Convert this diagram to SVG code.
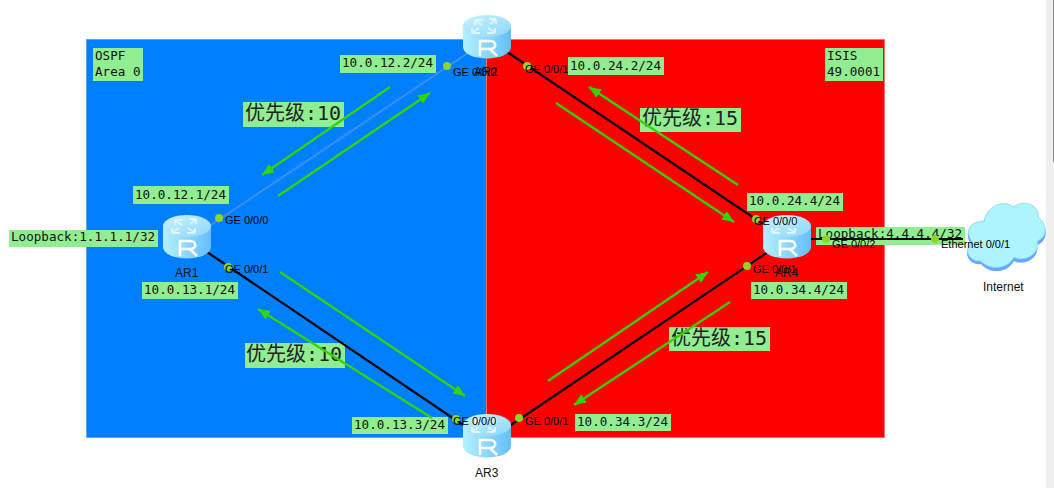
<svg xmlns="http://www.w3.org/2000/svg" width="1054" height="488" viewBox="0 0 1054 488">
<style>
.lbl{fill:#90ee90}
.mono{font-family:"DejaVu Sans Mono","Liberation Mono",monospace;font-size:12.6px;fill:#111}
.cn{font-family:"DejaVu Sans Mono","Noto Sans CJK SC",monospace;font-size:20px;fill:#222}
.port{font-family:"Liberation Sans",Arial,sans-serif;font-size:11px;fill:#000}
.name{font-family:"Liberation Sans",Arial,sans-serif;font-size:12px;fill:#111}
.link{stroke:#000;stroke-width:2.2;fill:none}
.flow{stroke:#33d400;stroke-width:2.2;fill:none;marker-end:url(#ah)}
.dot{fill:#8fd42a}
</style>
<defs>
<marker id="ah" markerUnits="userSpaceOnUse" markerWidth="14" markerHeight="12" refX="12" refY="5" orient="auto"><path d="M0 0L12 5L0 10Z" fill="#33d400"/></marker>
<linearGradient id="side" x1="0" x2="1" y1="0" y2="0"><stop offset="0" stop-color="#b4f0ff"/><stop offset=".5" stop-color="#8cd8ff"/><stop offset="1" stop-color="#66bdf8"/></linearGradient>
<linearGradient id="top" x1="0" x2="1" y1="0" y2="1"><stop offset="0" stop-color="#c8f2ff"/><stop offset="1" stop-color="#8fd6fa"/></linearGradient>
<g id="router">
<path d="M-24 -11V10A24 11.500 0 0 0 24 10V-11Z" fill="url(#side)"/>
<ellipse cx="0" cy="-11" rx="24" ry="11" fill="url(#top)"/>
<g fill="none" stroke="#e4f8ff" stroke-width="2" opacity=".85">
<path d="M-12 -17H-4M-12 -17V-12M-11 -16L-5 -12"/>
<path d="M9 -18H2M9 -18V-13M8 -17L3 -13"/>
<path d="M-7 -4H-15M-15 -4V-9M-14 -5L-8 -9"/>
<path d="M8 -4H0M8 -4V-9M7 -5L1 -9"/>
</g>
<path d="M-7 19V4H3C10 4 10 12 3 12H-7M3 12L10 19" fill="none" stroke="#fff" stroke-width="2.600"/>
</g>
</defs>
<rect width="1054" height="488" fill="#fff"/>
<rect x="1046" width="8" height="488" fill="#efefef"/>
<rect x="1053" width="1" height="162" fill="#8a8a8a"/>
<g id="areas">
<rect x="86.500" y="39.500" width="400" height="398" fill="#0080ff" stroke="#5aa8f5"/>
<rect x="486.500" y="39.500" width="398" height="398" fill="#ff0000" stroke="#f27070"/>
</g>
<g id="area-ospf"><rect class="lbl" x="93" y="48" width="50" height="33"/><text class="mono" x="95" y="60">OSPF</text><text class="mono" x="95" y="76">Area 0</text></g>
<g id="area-isis"><rect class="lbl" x="825" y="48" width="58" height="33"/><text class="mono" x="827" y="60">ISIS</text><text class="mono" x="827" y="76">49.0001</text></g>
<g id="labels">
<rect class="lbl" x="340" y="55" width="96" height="18"/><text class="mono" x="342" y="67">10.0.12.2/24</text>
<rect class="lbl" x="568" y="57" width="96" height="18"/><text class="mono" x="570" y="70">10.0.24.2/24</text>
<rect class="lbl" x="133" y="186" width="96" height="18"/><text class="mono" x="135" y="199">10.0.12.1/24</text>
<rect class="lbl" x="142" y="282" width="96" height="17"/><text class="mono" x="144" y="294">10.0.13.1/24</text>
<rect class="lbl" x="9" y="230" width="149" height="17"/><text class="mono" x="11" y="241">Loopback:1.1.1.1/32</text>
<rect class="lbl" x="747" y="193" width="96" height="18"/><text class="mono" x="749" y="205">10.0.24.4/24</text>
<rect class="lbl" x="751" y="282" width="96" height="17"/><text class="mono" x="753" y="294">10.0.34.4/24</text>
<rect class="lbl" x="816" y="227" width="149" height="18"/><text class="mono" x="818" y="238">Loopback:4.4.4.4/32</text>
<rect class="lbl" x="352" y="417" width="96" height="17"/><text class="mono" x="354" y="429">10.0.13.3/24</text>
<rect class="lbl" x="575" y="414" width="96" height="17"/><text class="mono" x="577" y="426">10.0.34.3/24</text>
<rect class="lbl" x="243" y="102" width="101" height="25"/><text class="cn" x="245" y="120">优先级:10</text>
<rect class="lbl" x="640" y="108" width="101" height="24"/><text class="cn" x="642" y="125">优先级:15</text>
<rect class="lbl" x="245" y="343" width="100" height="25"/><text class="cn" x="246" y="361">优先级:10</text>
<rect class="lbl" x="669" y="327" width="101" height="24"/><text class="cn" x="671" y="345">优先级:15</text>
</g>
<g id="connectors">
<line x1="211" y1="225" x2="468" y2="53" stroke="#3c8ef0" stroke-width="2"/>
<line class="link" x1="507" y1="52" x2="763" y2="224"/>
<line class="link" x1="207" y1="252" x2="463" y2="425"/>
<line class="link" x1="511" y1="425" x2="768" y2="252"/>
<line class="link" x1="811" y1="239" x2="963" y2="239"/>
<line class="flow" x1="390" y1="87" x2="262" y2="175"/>
<line class="flow" x1="278" y1="196" x2="430" y2="93"/>
<line class="flow" x1="738" y1="185" x2="589" y2="87"/>
<line class="flow" x1="556" y1="103" x2="734" y2="222"/>
<line class="flow" x1="280" y1="272" x2="465" y2="396"/>
<line class="flow" x1="432" y1="418" x2="258" y2="309"/>
<line class="flow" x1="548" y1="381" x2="708" y2="272"/>
<line class="flow" x1="730" y1="302" x2="574" y2="405"/>
</g>
<g id="AR1"><use href="#router" x="187" y="237"/><text class="name" x="175" y="277">AR1</text></g>
<g id="AR2"><use href="#router" x="487" y="37"/><text class="name" x="474" y="76">AR2</text></g>
<g id="AR3"><use href="#router" x="487" y="436"/><text class="name" x="475" y="477">AR3</text></g>
<g id="AR4"><use href="#router" x="787" y="237"/><text class="name" x="775" y="277">AR4</text></g>
<g id="Internet">
<path d="M981 264C968 266 962 250 972 246C962 232 971 222 983 224C985 208 1004 200 1013 209C1024 201 1040 207 1038 219C1049 226 1048 242 1037 245C1040 260 1022 266 1014 261C1007 274 989 274 981 264Z" fill="#6aa8ff"/>
<path d="M981 261C968 262 963 247 973 243C963 230 972 220 984 222C986 206 1004 199 1013 207C1024 199 1040 205 1038 217C1048 224 1047 238 1037 241C1040 256 1022 262 1014 257C1007 270 989 270 981 261Z" fill="#aef4ff" stroke="#90dcff"/>
<text class="name" x="983" y="291">Internet</text>
</g>
<g id="ports">
<circle class="dot" cx="447" cy="66" r="4"/><text class="port" x="453" y="76">GE 0/0/0</text>
<circle class="dot" cx="527" cy="66" r="4"/><text class="port" x="525" y="73">GE 0/0/1</text>
<circle class="dot" cx="219" cy="218" r="4"/><text class="port" x="225" y="224">GE 0/0/0</text>
<circle class="dot" cx="228" cy="267" r="4"/><text class="port" x="225" y="273">GE 0/0/1</text>
<circle class="dot" cx="756" cy="219" r="4"/><text class="port" x="754" y="225">GE 0/0/0</text>
<circle class="dot" cx="747" cy="266" r="4"/><text class="port" x="753" y="273">GE 0/0/1</text>
<circle class="dot" cx="826" cy="239" r="4"/><text class="port" x="832" y="248">GE 0/0/2</text>
<circle class="dot" cx="935" cy="239" r="4"/><text class="port" x="941" y="248">Ethernet 0/0/1</text>
<circle class="dot" cx="456" cy="419" r="4"/><text class="port" x="453" y="425">GE 0/0/0</text>
<circle class="dot" cx="519" cy="418" r="4"/><text class="port" x="525" y="425">GE 0/0/1</text>
</g>
</svg>
